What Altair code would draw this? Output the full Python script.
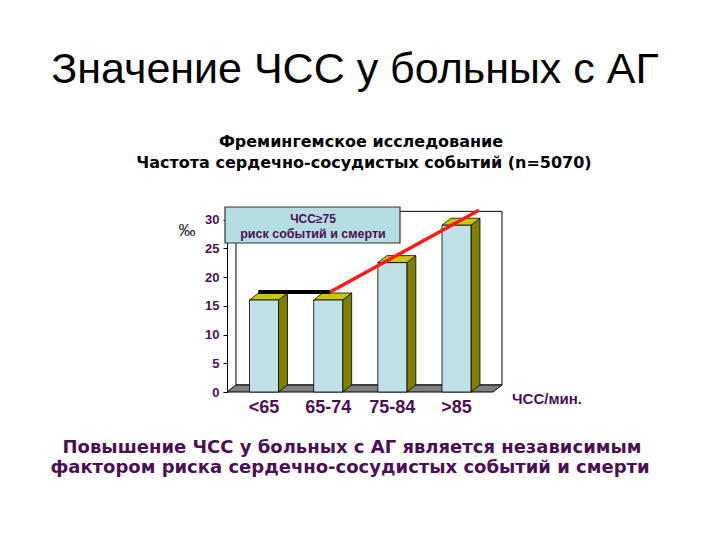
import altair as alt
import pandas as pd

# ---------------- data ----------------
categories = ["<65", "65-74", "75-84", ">85"]
values = [16, 16, 22.5, 29]          # ‰
y_ticks = [0, 5, 10, 15, 20, 25, 30]

# annotation lines (x in category-index units, y in ‰)
flat_line_x = [-0.09, 1.03]
flat_line_y = [17.4, 17.4]
risk_line_x = [1.03, 3.35]
risk_line_y = [17.4, 31.6]

title_text = "Значение ЧСС у больных с АГ"
subtitle_lines = ["Фремингемское исследование",
                  "Частота сердечно-сосудистых событий (n=5070)"]
box_lines = ["ЧСС≥75", "риск событий и смерти"]
unit_y = "‰"
unit_x = "ЧСС/мин."
footer_lines = ["Повышение ЧСС у больных с АГ является независимым",
                "фактором риска сердечно-сосудистых событий и смерти"]

# ---------------- styles ----------------
PURPLE = "#4B0F55"
FRONT = "#BEE0E6"
SIDE = "#808000"
TOP = "#C8C800"
FLOOR = "#808080"
X_DOM = [-0.577, 3.569]
Y_DOM = [0, 32]
HALF = 0.226   # half bar width (index units)
DX = 0.14      # 3D depth, x (index units)
DY = 1.217     # 3D depth, y (‰ units)
W, H = 266, 184

xs = alt.Scale(domain=X_DOM, nice=False, zero=False)
ys = alt.Scale(domain=Y_DOM, nice=False, zero=False)
yaxis = alt.Axis(values=y_ticks, title=None, grid=False, domainColor="black",
                 tickColor="black", tickSize=4, labelPadding=4,
                 labelFont="Liberation Sans", labelFontSize=13,
                 labelFontWeight="bold", labelColor=PURPLE)


def X(f):
    return alt.X(f, type="quantitative", scale=xs, axis=None)


def Y(f):
    return alt.Y(f, type="quantitative", scale=ys, axis=yaxis)


# ---------------- tables ----------------
bars = pd.DataFrame({"cat": categories, "val": values,
                     "idx": list(range(len(categories)))})
bars["xl"] = bars["idx"] - HALF
bars["xr"] = bars["idx"] + HALF

side_rows, top_rows = [], []
for c, v, i in zip(categories, values, range(len(categories))):
    side_rows.append({"cat": c, "x": i + HALF, "y": v, "y2": 0})
    side_rows.append({"cat": c, "x": i + HALF + DX, "y": v + DY, "y2": DY})
    top_rows.append({"cat": c, "y": v, "x": i - HALF, "x2": i + HALF})
    top_rows.append({"cat": c, "y": v + DY, "x": i - HALF + DX, "x2": i + HALF + DX})
side = pd.DataFrame(side_rows)
top = pd.DataFrame(top_rows)

wall = pd.DataFrame({"x": [X_DOM[0] + DX], "x2": [X_DOM[1] + DX],
                     "y": [DY], "y2": [30.2 + DY]})
floor = pd.DataFrame({"y": [0, DY], "x": [X_DOM[0], X_DOM[0] + DX],
                      "x2": [X_DOM[1], X_DOM[1] + DX]})
flat = pd.DataFrame({"x": flat_line_x, "y": flat_line_y})
risk = pd.DataFrame({"x": risk_line_x, "y": risk_line_y})

# ---------------- layers ----------------
wall_l = alt.Chart(wall).mark_rect(fill="white", stroke="black", strokeWidth=1).encode(
    x=X("x"), x2="x2", y=Y("y"), y2="y2")
floor_l = alt.Chart(floor).mark_area(orient="horizontal", fill=FLOOR, stroke="black",
                                     strokeWidth=1, opacity=1).encode(
    y=Y("y"), x=X("x"), x2="x2")
side_l = alt.Chart(side).mark_area(orient="vertical", fill=SIDE, stroke="black",
                                   strokeWidth=0.8, opacity=1).encode(
    x=X("x"), y=Y("y"), y2="y2", detail="cat:N")
top_l = alt.Chart(top).mark_area(orient="horizontal", fill=TOP, stroke="black",
                                 strokeWidth=0.8, opacity=1).encode(
    y=Y("y"), x=X("x"), x2="x2", detail="cat:N")
front_l = alt.Chart(bars).mark_rect(fill=FRONT, stroke="black", strokeWidth=0.8).encode(
    x=X("xl"), x2="xr", y=Y("val"), y2=alt.datum(0))
flat_l = alt.Chart(flat).mark_line(color="black", strokeWidth=4).encode(x=X("x"), y=Y("y"))
risk_l = alt.Chart(risk).mark_line(color="#FF1A1A", strokeWidth=3.5).encode(x=X("x"), y=Y("y"))

cat_l = alt.Chart(bars).mark_text(font="Liberation Sans", fontSize=18, fontWeight="bold",
                                  color=PURPLE, baseline="alphabetic").encode(
    x=X("idx"), y=alt.value(205), text="cat:N")

box_df = pd.DataFrame({"t": [0]})
box_l = alt.Chart(box_df).mark_rect(fill="#B5DEE3", stroke="#333333", strokeWidth=1.2).encode(
    x=alt.value(-2), x2=alt.value(173), y=alt.value(-1), y2=alt.value(35))


def txt(s, x, y, size, weight="bold", color=PURPLE, font="Liberation Sans", align="center"):
    return alt.Chart(pd.DataFrame({"t": [s]})).mark_text(
        font=font, fontSize=size, fontWeight=weight, color=color, align=align,
        baseline="alphabetic").encode(text="t:N", x=alt.value(x), y=alt.value(y))


texts = [
    txt(box_lines[0], 86, 15, 12),
    txt(box_lines[1], 86, 30, 12.5),
    txt(title_text, 128, -125, 43, weight="normal", color="black"),
    txt(subtitle_lines[0], 134, -61, 16, color="black", font="DejaVu Sans"),
    txt(subtitle_lines[1], 137, -40, 16, color="black", font="DejaVu Sans"),
    txt(unit_y, -40, 28, 17, weight="normal", color="#222222"),
    txt(unit_x, 320, 196, 15),
    txt(footer_lines[0], 125, 245, 18, font="DejaVu Sans"),
    txt(footer_lines[1], 123, 265, 18, font="DejaVu Sans"),
]

chart = alt.layer(wall_l, floor_l, side_l, top_l, front_l, flat_l, risk_l, cat_l,
                  box_l, *texts).properties(
    width=W, height=H, autosize="none",
    padding={"left": 219, "top": 200, "right": 210, "bottom": 130},
    background="white",
).configure_view(stroke=None)

chart.save("out.html", embed_options={"renderer": "svg", "actions": False})
